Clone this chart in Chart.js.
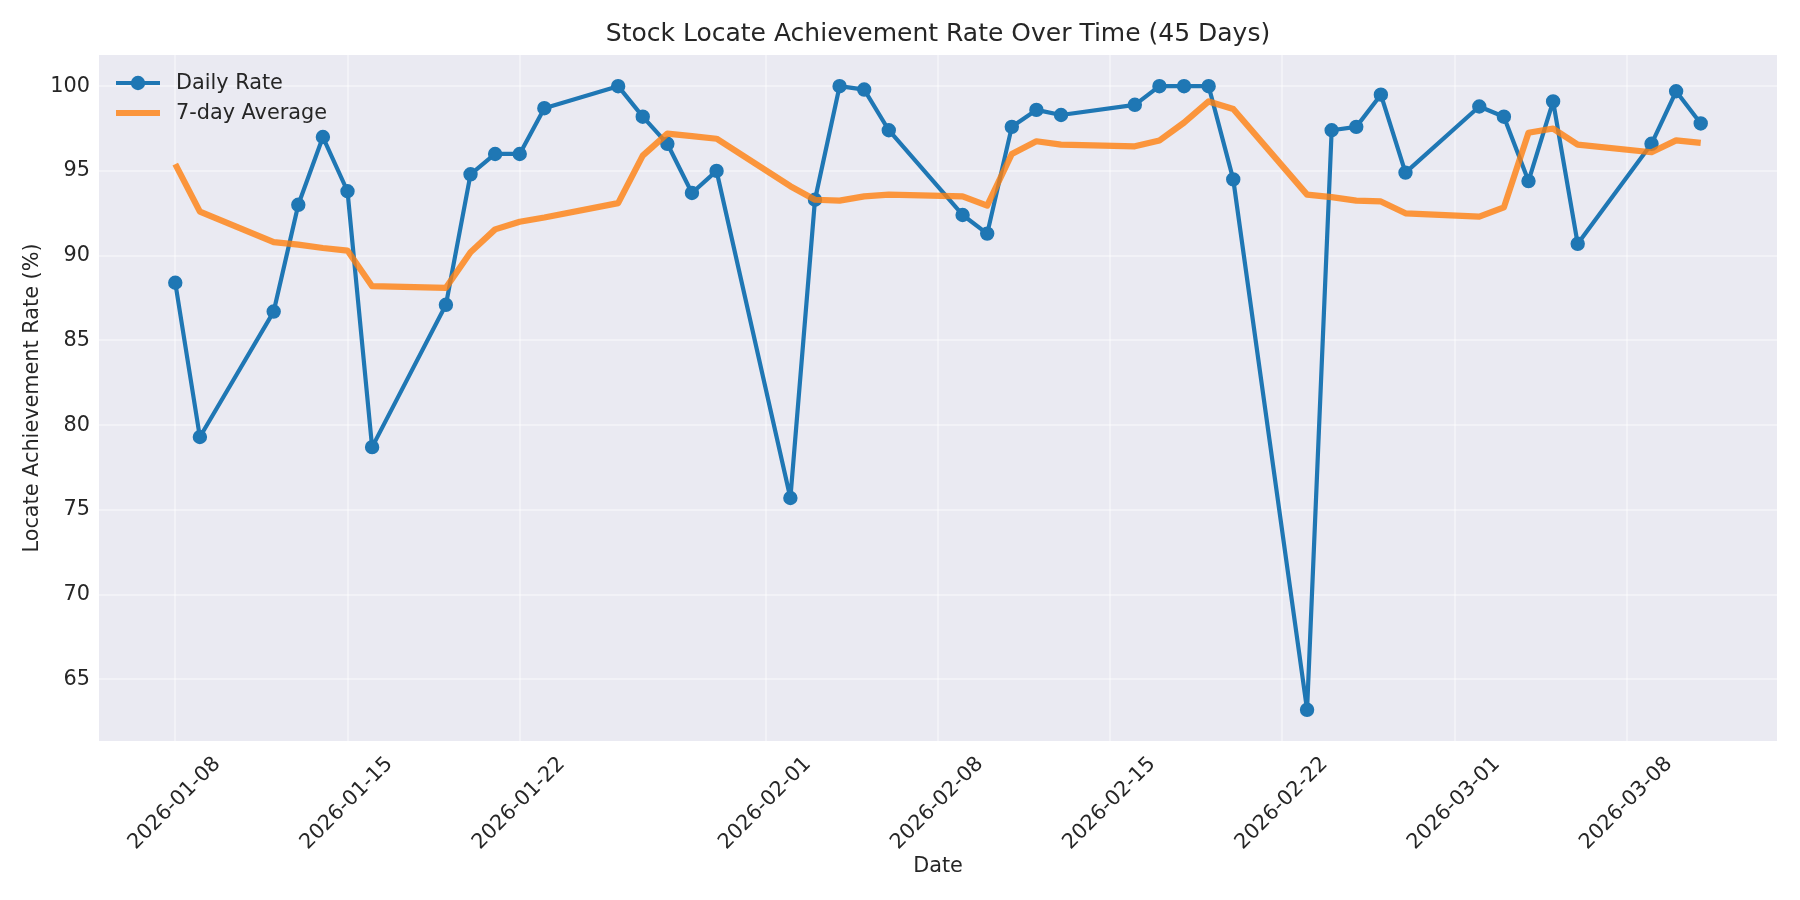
<!DOCTYPE html>
<html>
<head>
<meta charset="utf-8">
<title>Stock Locate Achievement Rate</title>
<script src="https://cdn.jsdelivr.net/npm/chart.js@4.4.1/dist/chart.umd.min.js"></script>
<style>
  html, body { margin: 0; padding: 0; background: #fff; }
  canvas { display: block; }
</style>
</head>
<body>
<canvas id="canvas" width="1800" height="900"></canvas>
<script>
var dates = [
    '2026-01-08', '2026-01-09', '2026-01-12', '2026-01-13', '2026-01-14', '2026-01-15', '2026-01-16',
    '2026-01-19', '2026-01-20', '2026-01-21', '2026-01-22', '2026-01-23',
    '2026-01-26', '2026-01-27', '2026-01-28', '2026-01-29', '2026-01-30',
    '2026-02-02', '2026-02-03', '2026-02-04', '2026-02-05', '2026-02-06',
    '2026-02-09', '2026-02-10', '2026-02-11', '2026-02-12', '2026-02-13',
    '2026-02-16', '2026-02-17', '2026-02-18', '2026-02-19', '2026-02-20',
    '2026-02-23', '2026-02-24', '2026-02-25', '2026-02-26', '2026-02-27',
    '2026-03-02', '2026-03-03', '2026-03-04', '2026-03-05', '2026-03-06',
    '2026-03-09', '2026-03-10', '2026-03-11'
];
var dailyRate = [
    88.4, 79.3, 86.7, 93.0, 97.0, 93.8, 78.7,
    87.1, 94.8, 96.0, 96.0, 98.7,
    100.0, 98.2, 96.6, 93.7, 95.0,
    75.7, 93.3, 100.0, 99.8, 97.4,
    92.4, 91.3, 97.6, 98.6, 98.3,
    98.9, 100.0, 100.0, 100.0, 94.5,
    63.2, 97.4, 97.6, 99.5, 94.9,
    98.8, 98.2, 94.4, 99.1, 90.7,
    96.6, 99.7, 97.8
];
var weeklyAvg = [
    95.4, 92.6, 90.8, 90.65, 90.45, 90.3, 88.2,
    88.1, 90.2, 91.55, 92.0, 92.25,
    93.1, 95.9, 97.2, 97.05, 96.9,
    94.1, 93.3, 93.25, 93.5, 93.6,
    93.5, 92.95, 96.0, 96.75, 96.55,
    96.45, 96.8, 97.85, 99.1, 98.65,
    93.6, 93.45, 93.25, 93.2, 92.5,
    92.3, 92.85, 97.25, 97.5, 96.55,
    96.1, 96.8, 96.65
];
var xTickLabels = ['2026-01-08', '2026-01-15', '2026-01-22', '2026-02-01', '2026-02-08',
    '2026-02-15', '2026-02-22', '2026-03-01', '2026-03-08'];

var DAY = 86400000;
var start = Date.parse(dates[0]);
function dayOf(s) {
    return Math.round((Date.parse(s) - start) / DAY);
}

function points(values) {
    return dates.map(function(d, i) {
        return { x: dayOf(d), y: values[i] };
    });
}

// matplotlib style 5% margins
var xFirst = dayOf(dates[0]), xLast = dayOf(dates[dates.length - 1]);
var xPad = (xLast - xFirst) * 0.05;
var allY = dailyRate.concat(weeklyAvg);
var yLo = Math.min.apply(null, allY), yHi = Math.max.apply(null, allY);
var yPad = (yHi - yLo) * 0.05;

var textColor = '#262626';
var gridColor = 'rgba(255,255,255,0.4)';
Chart.defaults.font.family = '"DejaVu Sans", sans-serif';
Chart.defaults.color = textColor;

var plotBackground = {
    id: 'plotBackground',
    beforeDraw: function(chart) {
        var ctx = chart.ctx, a = chart.chartArea;
        ctx.save();
        ctx.fillStyle = '#ffffff';
        ctx.fillRect(0, 0, chart.width, chart.height);
        ctx.fillStyle = '#EAEAF2';
        ctx.fillRect(a.left, a.top, a.right - a.left, a.bottom - a.top);
        ctx.restore();
    }
};

var insideLegend = {
    id: 'insideLegend',
    afterDraw: function(chart) {
        var ctx = chart.ctx, a = chart.chartArea;
        var items = chart.data.datasets.slice().sort(function(p, q) { return p.legendIndex - q.legendIndex; });
        items.forEach(function(ds, i) {
            var y = a.top + 28 + i * 30;
            var x0 = a.left + 17, x1 = x0 + 44;
            ctx.save();
            ctx.strokeStyle = ds.borderColor;
            ctx.lineWidth = ds.borderWidth;
            ctx.lineCap = 'butt';
            ctx.beginPath();
            ctx.moveTo(x0, y);
            ctx.lineTo(x1, y);
            ctx.stroke();
            if (ds.pointRadius) {
                ctx.fillStyle = ds.pointBackgroundColor;
                ctx.beginPath();
                ctx.arc((x0 + x1) / 2, y, ds.pointRadius + 0.8, 0, Math.PI * 2);
                ctx.fill();
            }
            ctx.fillStyle = textColor;
            ctx.font = '20.8px "DejaVu Sans"';
            ctx.textBaseline = 'middle';
            ctx.fillText(ds.label, x1 + 16, y + 1);
            ctx.restore();
        });
    }
};

var ctx = document.getElementById('canvas').getContext('2d');
window.rateChart = new Chart(ctx, {
    type: 'line',
    data: {
        datasets: [{
            label: 'Daily Rate',
            legendIndex: 0,
            order: 1,
            data: points(dailyRate),
            borderColor: '#1f77b4',
            backgroundColor: '#1f77b4',
            borderWidth: 4.2,
            pointRadius: 6.4,
            pointBorderWidth: 1.6,
            pointBackgroundColor: '#1f77b4',
            pointBorderColor: '#1f77b4',
            borderJoinStyle: 'round',
            tension: 0
        }, {
            label: '7-day Average',
            legendIndex: 1,
            order: 0,
            data: points(weeklyAvg),
            borderColor: 'rgba(255,127,14,0.8)',
            backgroundColor: 'rgba(255,127,14,0.8)',
            borderWidth: 6.2,
            pointRadius: 0,
            borderJoinStyle: 'round',
            tension: 0
        }]
    },
    options: {
        responsive: false,
        devicePixelRatio: 1,
        animation: false,
        layout: { padding: { left: 0, right: 23, top: 0, bottom: 0 } },
        plugins: {
            legend: { display: false },
            tooltip: { enabled: false },
            title: {
                display: true,
                fullSize: false,
                text: 'Stock Locate Achievement Rate Over Time (45 Days)',
                color: textColor,
                font: { size: 25, weight: 'normal' },
                padding: { top: 19, bottom: 6 }
            }
        },
        scales: {
            x: {
                type: 'linear',
                min: xFirst - xPad,
                max: xLast + xPad,
                afterBuildTicks: function(scale) {
                    scale.ticks = xTickLabels.map(function(l) { return { value: dayOf(l) }; });
                },
                afterFit: function(scale) { scale.height = 159; },
                ticks: {
                    autoSkip: false,
                    minRotation: 45,
                    maxRotation: 45,
                    labelOffset: 42,
                    padding: 11,
                    font: { size: 20.8 },
                    callback: function(value, index) { return xTickLabels[index]; }
                },
                grid: { color: gridColor, lineWidth: 2, drawTicks: false },
                border: { display: false },
                title: {
                    display: true,
                    text: 'Date',
                    font: { size: 20.8 },
                    padding: { top: 0, bottom: 21 }
                }
            },
            y: {
                type: 'linear',
                min: yLo - yPad,
                max: yHi + yPad,
                afterFit: function(scale) { scale.width = 99; },
                ticks: {
                    stepSize: 5,
                    includeBounds: false,
                    padding: 9,
                    font: { size: 20.8 }
                },
                grid: { color: gridColor, lineWidth: 2, drawTicks: false },
                border: { display: false },
                title: {
                    display: true,
                    text: 'Locate Achievement Rate (%)',
                    font: { size: 20.8 },
                    padding: { top: 20, bottom: 0 }
                }
            }
        }
    },
    plugins: [plotBackground, insideLegend]
});
</script>
</body>
</html>
